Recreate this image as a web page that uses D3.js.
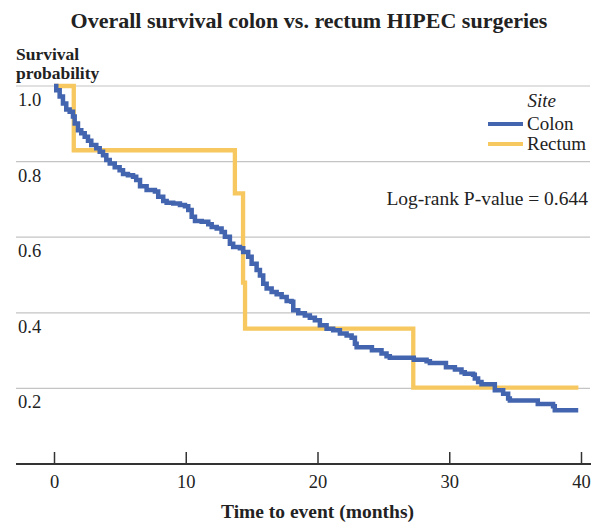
<!DOCTYPE html>
<html><head><meta charset="utf-8">
<script src="https://cdn.jsdelivr.net/npm/d3@7"></script>
<style>
body{margin:0;background:#fff;}
text{font-family:"Liberation Serif","Times New Roman",serif;fill:#222;}
</style></head>
<body>
<svg id="c" width="601" height="529"></svg>
<script>
// ---- data ----
const colonTime = [0,0.17,0.43,0.68,0.93,1.19,1.44,1.57,1.82,2.07,2.33,2.58,2.83,3.21,3.47,3.72,3.97,4.23,4.61,4.98,5.24,5.61,6.00,6.24,6.53,7.03,7.66,7.91,8.29,8.55,9.05,9.56,9.94,10.19,10.45,10.70,11.21,11.71,11.97,12.35,12.72,12.97,13.35,13.60,14.11,14.36,14.74,15.00,15.38,15.63,15.88,16.14,16.52,16.90,17.28,17.66,18.03,18.16,18.54,19.04,19.42,19.80,20.18,20.69,21.19,21.70,22.21,22.59,22.84,22.97,24.13,24.86,25.24,25.49,27.31,28.28,28.53,29.75,30.43,30.93,31.18,31.81,31.94,32.19,32.45,33.46,34.09,34.47,34.60,36.72,37.88,38.01,39.79];
const colonSurv = [1.000,0.989,0.972,0.954,0.938,0.932,0.919,0.901,0.883,0.875,0.866,0.855,0.844,0.835,0.826,0.817,0.804,0.795,0.785,0.777,0.767,0.764,0.760,0.751,0.735,0.725,0.721,0.707,0.696,0.691,0.689,0.685,0.682,0.672,0.654,0.643,0.641,0.634,0.627,0.623,0.614,0.601,0.583,0.574,0.571,0.561,0.548,0.530,0.513,0.499,0.477,0.464,0.455,0.449,0.442,0.431,0.429,0.407,0.399,0.393,0.387,0.380,0.367,0.358,0.354,0.345,0.340,0.334,0.318,0.309,0.301,0.292,0.285,0.281,0.276,0.272,0.267,0.256,0.250,0.243,0.239,0.236,0.226,0.217,0.211,0.195,0.186,0.173,0.168,0.159,0.153,0.142,0.142];
const rectumTime = [0,1.5,13.73,14.35,14.5,27.27,39.8];
const rectumSurv = [1.0,0.830,0.716,0.48,0.358,0.202,0.202];
const xTicks = [0,10,20,30,40];
const yTicks = [0.2,0.4,0.6,0.8,1.0];
const seriesNames = ["Colon","Rectum"];
const seriesColors = ["#4364ae","#f6c85f"];
const titleText = "Overall survival colon vs. rectum HIPEC surgeries";
const xTitle = "Time to event (months)";
const yTitle = ["Survival","probability"];
const pText = "Log-rank P-value = 0.644";

// ---- layout ----
const svg = d3.select("#c");
const x = d3.scaleLinear().domain([0,40]).range([54,581]);
const y = d3.scaleLinear().domain([0,1]).range([464,86]);
const gridL = 16, gridR = 590;

// gridlines
svg.append("g").selectAll("line").data(yTicks).join("line")
  .attr("x1",gridL).attr("x2",gridR)
  .attr("y1",d=>y(d)).attr("y2",d=>y(d))
  .attr("stroke","#c4c4c4").attr("stroke-width",1.2);

// y labels under gridlines
svg.append("g").selectAll("text").data(yTicks).join("text")
  .attr("x",18).attr("y",d=>y(d)+20)
  .attr("font-size",18.5)
  .text(d=>d.toFixed(1));

// x axis
const xa = svg.append("g").attr("transform",`translate(0,${y(0)})`)
  .call(d3.axisBottom(x).tickValues(xTicks).tickSize(-12).tickPadding(11).tickFormat(d3.format("d")));
xa.select(".domain").remove();
xa.selectAll(".tick line").attr("stroke","#333").attr("stroke-width",1.5);
xa.selectAll(".tick text").attr("font-size",18.5).attr("font-family","Liberation Serif, Times New Roman, serif").attr("fill","#222");
svg.append("line").attr("x1",gridL).attr("x2",gridR+1).attr("y1",y(0)).attr("y2",y(0))
  .attr("stroke","#333").attr("stroke-width",1.8);

// curves
const line = d3.line().curve(d3.curveStepAfter).x(d=>x(d[0])).y(d=>y(d[1]));
const rectum = rectumTime.map((t,i)=>[t,rectumSurv[i]]);
const colon = colonTime.map((t,i)=>[t,colonSurv[i]]);
svg.append("path").datum(rectum).attr("d",line).attr("fill","none")
  .attr("stroke",seriesColors[1]).attr("stroke-width",4.3);
svg.append("path").datum(colon).attr("d",line).attr("fill","none")
  .attr("stroke",seriesColors[0]).attr("stroke-width",4.5);

// title
svg.append("text").attr("x",309).attr("y",28).attr("text-anchor","middle")
  .attr("font-size",22).attr("font-weight","bold").attr("fill","#111").text(titleText);
// y title
svg.append("text").attr("x",16).attr("y",60).attr("font-size",17.5).attr("font-weight","bold").attr("fill","#111").text(yTitle[0]);
svg.append("text").attr("x",16).attr("y",79).attr("font-size",17.5).attr("font-weight","bold").attr("fill","#111").text(yTitle[1]);
// x title
svg.append("text").attr("x",(x(0)+x(40))/2).attr("y",518).attr("text-anchor","middle")
  .attr("font-size",19.5).attr("font-weight","bold").attr("fill","#111").text(xTitle);

// legend
svg.append("text").attr("x",556).attr("y",107).attr("text-anchor","end")
  .attr("font-size",19).attr("font-style","italic").text("Site");
const lg = svg.append("g").selectAll("g").data(seriesNames).join("g")
  .attr("transform",(d,i)=>`translate(0,${124+i*20})`);
lg.append("line").attr("x1",488).attr("x2",523).attr("y1",0).attr("y2",0)
  .attr("stroke",(d,i)=>seriesColors[i]).attr("stroke-width",4);
lg.append("text").attr("x",527).attr("y",6).attr("font-size",19).text(d=>d);

// p-value
svg.append("text").attr("x",588).attr("y",205).attr("text-anchor","end")
  .attr("font-size",19.5).text(pText);
</script>
</body></html>
